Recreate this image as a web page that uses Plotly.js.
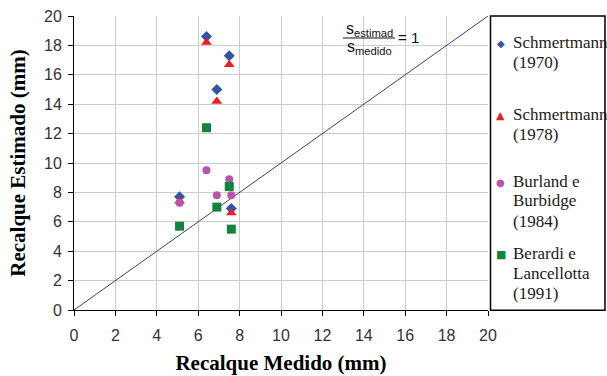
<!DOCTYPE html>
<html>
<head>
<meta charset="utf-8">
<script src="https://cdn.plot.ly/plotly-3.0.1.min.js"></script>
<style>html,body{margin:0;padding:0;background:#fff;}#chart{width:607px;height:376px;}</style>
</head>
<body>
<div id="chart"></div>
<script>
// ---- data ----
const xMeasured = [5.1, 6.4, 6.9, 7.5, 7.6];
const ySchm1970 = [7.7, 18.6, 15.0, 17.3, 6.9];
const ySchm1978 = [7.4, 18.2, 14.2, 16.7, 6.6];
const yBurland  = [7.3, 9.5, 7.8, 8.9, 7.8];
const yBerardi  = [5.7, 12.4, 7.0, 8.4, 5.5];
const identityX = [0, 20];
const identityY = [0, 20];
const seriesNames = ["Schmertmann (1970)", "Schmertmann (1978)", "Burland e Burbidge (1984)", "Berardi e Lancellotta (1991)"];
const legendLines = [["Schmertmann", "(1970)"], ["Schmertmann", "(1978)"], ["Burland e", "Burbidge", "(1984)"], ["Berardi e", "Lancellotta", "(1991)"]];
const xTickVals = [0, 2, 4, 6, 8, 10, 12, 14, 16, 18, 20];
const yTickVals = [0, 2, 4, 6, 8, 10, 12, 14, 16, 18, 20];

// ---- styles ----
const colors = ["#2f55a4", "#ee1c25", "#b953ab", "#12843c"];
const symbols = ["diamond", "triangle-up", "circle", "square"];
const sizes = [8.5, 9.5, 8, 9];
const glyphs = ["\u25C6", "\u25B2", "\u25CF", "\u25A0"];
const glyphSizes = [10, 11, 10, 11];
const ySeries = [ySchm1970, ySchm1978, yBurland, yBerardi];

const M = {l: 74, r: 119, t: 16, b: 66};
const W = 607 - M.l - M.r, H = 376 - M.t - M.b;
const px = x => (x - M.l) / W;
const py = y => (376 - M.b - y) / H;

const traces = [{
  x: identityX, y: identityY, mode: 'lines', type: 'scatter',
  line: {color: '#3b3b8f', width: 1}, showlegend: false, hoverinfo: 'skip'
}];
ySeries.forEach((ys, i) => {
  traces.push({
    x: xMeasured, y: ys, mode: 'markers', type: 'scatter', name: seriesNames[i],
    marker: {symbol: symbols[i], size: sizes[i], color: colors[i], line: {width: 0}},
    showlegend: false
  });
});

const annotations = [];
// fraction annotation
annotations.push({xref: 'paper', yref: 'paper', x: px(369), y: py(29), xanchor: 'center', yanchor: 'middle',
  text: 's<sub>estimad</sub>', showarrow: false, font: {family: 'Liberation Sans, Arial', size: 16, color: '#111'}});
annotations.push({xref: 'paper', yref: 'paper', x: px(369), y: py(47), xanchor: 'center', yanchor: 'middle',
  text: 's<sub>medido</sub>', showarrow: false, font: {family: 'Liberation Sans, Arial', size: 16, color: '#111'}});
annotations.push({xref: 'paper', yref: 'paper', x: px(396), y: py(38), xanchor: 'left', yanchor: 'middle',
  text: '= 1', showarrow: false, font: {family: 'Liberation Sans, Arial', size: 15, color: '#111'}});

// custom legend
const legendStart = [42.7, 114, 181, 253];
const lineGap = 20;
legendLines.forEach((lines, i) => {
  annotations.push({xref: 'paper', yref: 'paper', x: px(501), y: py(legendStart[i] + 1), xanchor: 'center', yanchor: 'middle',
    text: glyphs[i], showarrow: false, font: {family: 'DejaVu Sans', size: glyphSizes[i], color: colors[i]}});
  lines.forEach((ln, j) => {
    annotations.push({xref: 'paper', yref: 'paper', x: px(511), y: py(legendStart[i] + j * lineGap), xanchor: 'left', yanchor: 'middle',
      text: ln, showarrow: false, font: {family: 'Liberation Serif, Times New Roman', size: 17, color: '#1a1a1a'}});
  });
});

const shapes = [
  {type: 'line', xref: 'paper', yref: 'paper', x0: px(343), x1: px(395), y0: py(38), y1: py(38), line: {color: '#111', width: 1}},
  {type: 'rect', xref: 'paper', yref: 'paper', x0: px(490.5), x1: px(605), y0: py(310.3), y1: py(16), line: {color: '#000', width: 1.5}}
];

const axisCommon = {
  range: [0, 20], tickmode: 'array', showgrid: true, gridcolor: '#cccccc', gridwidth: 1,
  zeroline: false, showline: true, linecolor: '#000', linewidth: 1,
  ticks: 'outside', ticklen: 5, tickcolor: '#000', tickwidth: 1,
  tickfont: {family: 'Liberation Sans, Arial', size: 16, color: '#333'}, fixedrange: true
};

const layout = {
  width: 607, height: 376, margin: M, paper_bgcolor: '#fff', plot_bgcolor: '#fff',
  showlegend: false,
  xaxis: Object.assign({}, axisCommon, {tickvals: xTickVals, ticktext: xTickVals.map(String), ticklabelstandoff: 6,
    title: {text: 'Recalque Medido (mm)', standoff: 12, font: {family: 'Liberation Serif, Times New Roman', size: 21, color: '#000', weight: 'bold'}}}),
  yaxis: Object.assign({}, axisCommon, {tickvals: yTickVals, ticktext: yTickVals.map(String), ticklabelstandoff: 3,
    title: {text: 'Recalque Estimado (mm)', standoff: 12, font: {family: 'Liberation Serif, Times New Roman', size: 21, color: '#000', weight: 'bold'}}}),
  annotations: annotations, shapes: shapes
};

Plotly.newPlot('chart', traces, layout, {displayModeBar: false, staticPlot: true});
</script>
</body>
</html>
